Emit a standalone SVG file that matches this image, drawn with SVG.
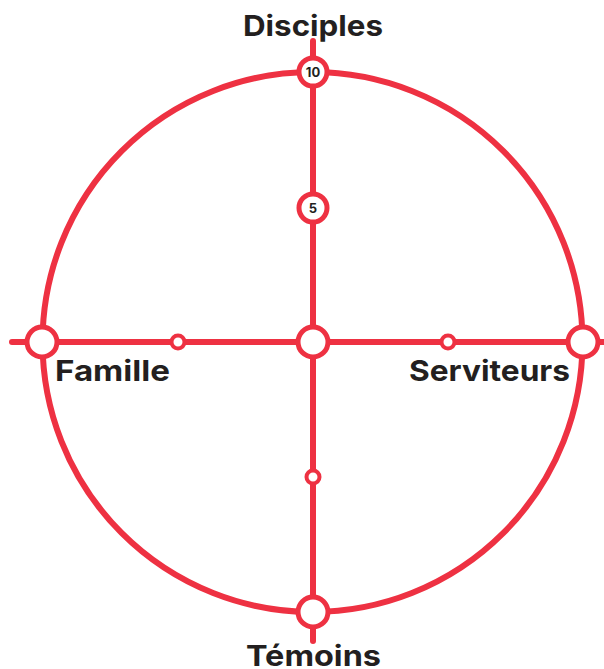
<svg xmlns="http://www.w3.org/2000/svg" width="604" height="669" viewBox="0 0 604 669">
<style>
.ln{stroke:#EE3142;stroke-width:6;fill:none;stroke-linecap:round}
.big{fill:#fff;stroke:#EE3142;stroke-width:5}
.sm{fill:#fff;stroke:#EE3142;stroke-width:4}
.lbl{font-family:Inter,"Liberation Sans",sans-serif;font-weight:700;font-size:29px;fill:#231F20}
.num{font-family:Inter,"Liberation Sans",sans-serif;font-weight:700;font-size:13px;fill:#231F20;text-anchor:middle}
</style>
<rect width="604" height="669" fill="#fff"/>
<g id="connectors">
<circle class="ln" cx="312.5" cy="342" r="270"/>
<line class="ln" x1="313" y1="41" x2="313" y2="641"/>
<line class="ln" x1="12" y1="342" x2="604" y2="342"/>
</g>
<g id="node-10"><circle class="big" cx="313" cy="72" r="14"/><text class="num" x="313" y="76.5">10</text></g>
<g id="node-5"><circle class="big" cx="313" cy="208" r="14"/><text class="num" x="313" y="212.5">5</text></g>
<g id="node-center"><circle class="big" cx="313" cy="342" r="15"/></g>
<g id="node-famille"><circle class="big" cx="42" cy="342" r="15"/></g>
<g id="node-serviteurs"><circle class="big" cx="583" cy="342" r="15"/></g>
<g id="node-temoins"><circle class="big" cx="313" cy="612" r="15"/></g>
<g id="node-left-mid"><circle class="sm" cx="178" cy="342" r="6.5"/></g>
<g id="node-right-mid"><circle class="sm" cx="448" cy="342" r="6.5"/></g>
<g id="node-bottom-mid"><circle class="sm" cx="313" cy="477" r="6.5"/></g>
<g id="labels">
<text class="lbl" x="243" y="36" textLength="140" lengthAdjust="spacingAndGlyphs">Disciples</text>
<text class="lbl" x="55" y="381" textLength="115" lengthAdjust="spacingAndGlyphs">Famille</text>
<text class="lbl" x="409" y="381" textLength="161" lengthAdjust="spacingAndGlyphs">Serviteurs</text>
<text class="lbl" x="246" y="666" textLength="135" lengthAdjust="spacingAndGlyphs">Témoins</text>
</g>
</svg>
